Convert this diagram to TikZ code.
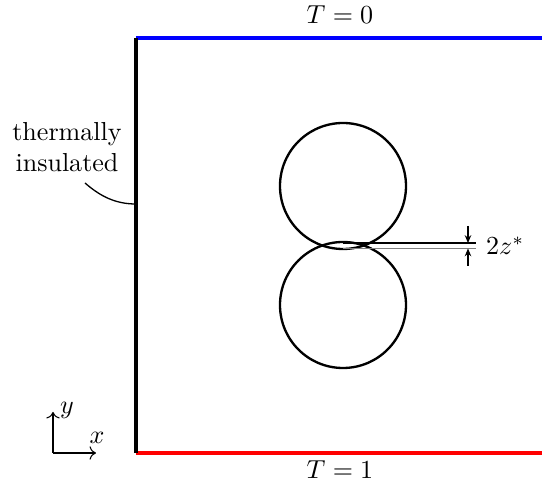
\documentclass[tikz,border=0pt]{standalone}
\usetikzlibrary{arrows.meta}
\begin{document}
\begin{tikzpicture}[x=0.0135cm,y=-0.0135cm,
  wall/.style={line width=1.5pt},
  circ/.style={line width=0.9pt},
  thin line/.style={line width=0.4pt},
  lbl/.style={inner sep=1pt}]
\useasboundingbox (0,0) rectangle (542,486);
% boundaries
\coordinate (TL) at (136,38);
\coordinate (TR) at (542,38);
\coordinate (BL) at (136,453);
\coordinate (BR) at (542,453);
\draw[wall,blue] (TL) -- (TR);
\draw[wall,red] (BL) -- (BR);
\draw[wall,black] (TL) -- (BL);
\node[lbl] (t0) at (340,15) {$T=0$};
\node[lbl] (t1) at (340,470) {$T=1$};
% circles
\draw[circ] (343,186) circle[radius=63];
\draw[circ] (343,305) circle[radius=63];
% gap lines
\coordinate (g1a) at (343,243);
\coordinate (g1b) at (476,243);
\coordinate (g2a) at (343,248.5);
\coordinate (g2b) at (476,248.5);
\draw[thin line] (g1a) -- (g1b);
\draw[thin line,gray] (g2a) -- (g2b);
\coordinate (d1) at (468,226);
\coordinate (d1e) at (468,243);
\coordinate (d2) at (468,266);
\coordinate (d2e) at (468,248.5);
\draw[thin line,-{Stealth[length=3pt,width=2.5pt]}] (d1) -- (d1e);
\draw[thin line,-{Stealth[length=3pt,width=2.5pt]}] (d2) -- (d2e);
\node[lbl,anchor=west] (z) at (483,246) {$2z^*$};
% insulated label
\node[lbl,align=center] (ins) at (67,147) {thermally\\insulated};
\coordinate (wallpt) at (136,204);
\coordinate (cstart) at (85,183);
\draw[line width=0.5pt] (cstart) .. controls (100,196) and (115,204) .. (wallpt);
% axes
\coordinate (O) at (53,453);
\coordinate (Y) at (53,412);
\coordinate (X) at (96,453);
\draw[thin line,->] (O) -- (Y);
\draw[thin line,->] (O) -- (X);
\node[lbl] (ylab) at (67,410) {$y$};
\node[lbl] (xlab) at (97,438) {$x$};
\end{tikzpicture}
\end{document}
